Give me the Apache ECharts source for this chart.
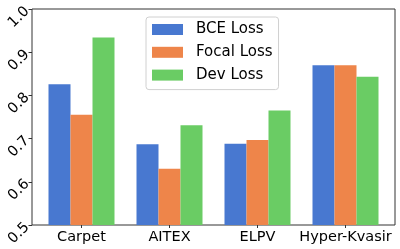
<!DOCTYPE html>
<html>
<head>
<meta charset="utf-8">
<script src="https://cdn.jsdelivr.net/npm/echarts@6/dist/echarts.min.js"></script>
<style>html,body{margin:0;padding:0;background:#fff;}#c{width:400px;height:249px;}</style>
</head>
<body>
<div id="c"></div>
<script>
const categories = ['Carpet', 'AITEX', 'ELPV', 'Hyper-Kvasir'];
const bceLoss = [0.826, 0.687, 0.688, 0.870];
const focalLoss = [0.755, 0.630, 0.697, 0.870];
const devLoss = [0.934, 0.731, 0.765, 0.843];
const yTicks = [0.5, 0.6, 0.7, 0.8, 0.9, 1.0];
const seriesNames = ['BCE Loss', 'Focal Loss', 'Dev Loss'];
const colors = ['#4878d0', '#ee854a', '#6acc64'];

const font = 'DejaVu Sans';
const chart = echarts.init(document.getElementById('c'), null, {renderer: 'canvas'});
const yMin = yTicks[0], yMax = yTicks[yTicks.length - 1];
chart.setOption({
  animation: false,
  color: colors,
  grid: [
    {left: 32, top: 9, width: 363, height: 216, show: true, borderColor: '#333', borderWidth: 1, backgroundColor: 'transparent'},
    {left: 37.5, top: 9, width: 352, height: 216}
  ],
  xAxis: [
    {gridIndex: 0, type: 'value', min: 0, max: 1, show: false},
    {gridIndex: 1, type: 'category', data: categories, boundaryGap: true,
     axisLine: {show: false},
     axisTick: {show: true, alignWithLabel: true, interval: 0, length: 3, lineStyle: {color: '#333'}},
     axisLabel: {interval: 0, margin: 5, color: '#000', fontFamily: font, fontSize: 14.5}}
  ],
  yAxis: [
    {gridIndex: 0, type: 'value', min: yMin, max: yMax, interval: 0.1,
     axisLine: {show: false}, splitLine: {show: false},
     axisTick: {show: true, length: 3.5, lineStyle: {color: '#333'}},
     axisLabel: {rotate: 45, margin: 5, color: '#000', fontFamily: font, fontSize: 14.5,
                 formatter: v => v.toFixed(1)}},
    {gridIndex: 1, type: 'value', min: yMin, max: yMax, show: false}
  ],
  legend: {
    orient: 'vertical', left: 146, top: 17,
    itemWidth: 31, itemHeight: 11, itemGap: 7.8,
    padding: [5, 6, 7, 6],
    backgroundColor: 'rgba(255,255,255,0.8)',
    borderColor: '#d0d0d0', borderWidth: 1, borderRadius: 3,
    icon: 'rect',
    textStyle: {fontFamily: font, fontSize: 15, lineHeight: 15, color: '#000', padding: [0, 0, 0, 8]},
    data: seriesNames
  },
  series: [bceLoss, focalLoss, devLoss].map((d, i) => ({
    name: seriesNames[i], type: 'bar', xAxisIndex: 1, yAxisIndex: 1,
    data: d, barWidth: 22, barGap: '0%'
  }))
});
</script>
</body>
</html>
